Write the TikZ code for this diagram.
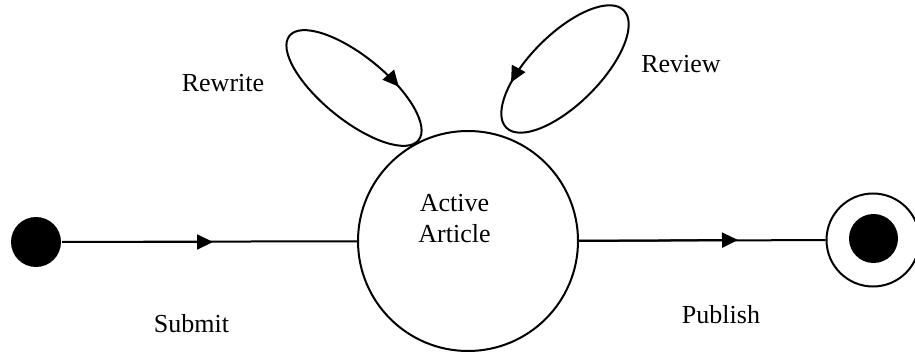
\documentclass[tikz,border=0pt]{standalone}
\usepackage{fontspec}
\setmainfont{Liberation Serif}
\usetikzlibrary{arrows.meta,decorations.markings}
\begin{document}
\begin{tikzpicture}[x=0.5pt,y=0.5pt,line width=1pt,
  tipend/.style={-{Triangle[length=8pt,width=7.5pt]}},
  lbl/.style={font=\fontsize{13pt}{15.5pt}\selectfont, inner sep=0pt, anchor=base},
  bigstate/.style={circle, draw, minimum size=110pt, inner sep=0pt},
  dot/.style={circle, fill=black, inner sep=0pt},
  loopfwd/.style={postaction={decorate}, decoration={markings,
     mark=at position #1 with {\arrow{Triangle[length=8pt,width=7.5pt]}}}},
  looprev/.style={postaction={decorate}, decoration={markings,
     mark=at position #1 with {\arrowreversed{Triangle[length=8pt,width=7.5pt]}}}}
]
\useasboundingbox (0,0) rectangle (915,-352);
% states
\node[dot, minimum size=25pt] (start) at (36,-242) {};
\node[bigstate] (art) at (468,-241) {};
\node[font=\fontsize{13pt}{15.5pt}\selectfont, inner sep=0pt, align=center, anchor=north] (arttext) at (454.5,-193) {Active\\Article};
\node[circle, draw, minimum size=46.5pt, inner sep=0pt] (endo) at (873,-240) {};
\node[dot, minimum size=24.5pt] (endi) at (873.5,-238.5) {};
% transitions
\coordinate (m1) at (213,-242);
\coordinate (m2) at (738,-240);
\draw (start) -- (art);
\draw[tipend] (start) -- (m1);
\draw (art) -- (endo);
\draw[tipend] (art.east) -- (m2);
% self loops
\draw[looprev=0.16, rotate around={-39:(354,-88)}] (354,-88) ellipse [x radius=83, y radius=32];
\draw[loopfwd=0.375, rotate around={45:(565,-69)}] (565,-69) ellipse [x radius=83, y radius=35];
% labels
\node[lbl] (lrewrite) at (223,-92) {Rewrite};
\node[lbl] (lreview) at (681,-73) {Review};
\node[lbl] (lsubmit) at (191.5,-332) {Submit};
\node[lbl] (lpublish) at (721,-323) {Publish};
\end{tikzpicture}
\end{document}
